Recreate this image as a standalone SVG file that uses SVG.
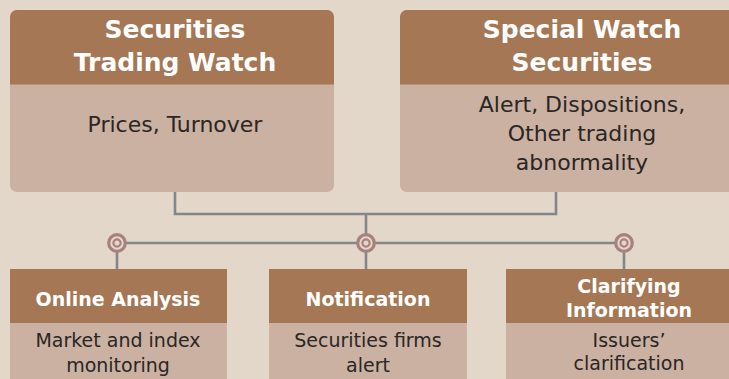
<svg xmlns="http://www.w3.org/2000/svg" width="729" height="379" viewBox="0 0 729 379">
  <defs>
    <clipPath id="clipTL"><rect x="10" y="10" width="324" height="182" rx="7"/></clipPath>
    <clipPath id="clipTR"><rect x="400" y="10" width="364" height="182" rx="7"/></clipPath>
    <g id="hub">
      <circle r="8.3" fill="#e2d7c9" stroke="#a8817f" stroke-width="3.2"/>
      <circle r="3.6" fill="#e2d7c9" stroke="#a8817f" stroke-width="2.2"/>
    </g>
  </defs>
  <style>
    .head { fill: #a57754; }
    .body { fill: #cbb1a1; }
    .wire { fill: none; stroke: #85868a; stroke-width: 2.6; }
    .t1 { font-family: "DejaVu Sans", Verdana, sans-serif; font-weight: bold; fill: #ffffff; text-anchor: middle; }
    .t2 { font-family: "DejaVu Sans", Verdana, sans-serif; fill: #2a2624; text-anchor: middle; }
  </style>

  <rect width="729" height="379" fill="#e2d7c9"/>

  <!-- connectors -->
  <g id="connectors">
    <path class="wire" d="M175 192 V214 H556 V192"/>
    <path class="wire" d="M366 214 V243"/>
    <path class="wire" d="M117 243 H624"/>
    <path class="wire" d="M117 243 V270 M366 243 V270 M624 243 V270"/>
    <use href="#hub" x="117" y="243"/>
    <use href="#hub" x="366" y="243"/>
    <use href="#hub" x="624" y="243"/>
  </g>

  <!-- top left -->
  <g id="trading-watch">
    <g clip-path="url(#clipTL)">
      <rect class="body" x="10" y="10" width="324" height="182"/>
      <rect class="head" x="10" y="10" width="324" height="74.5"/>
    </g>
    <text class="t1" x="175" y="38" font-size="25">Securities</text>
    <text class="t1" x="175" y="71" font-size="25">Trading Watch</text>
    <text class="t2" x="175" y="132" font-size="22">Prices, Turnover</text>
  </g>

  <!-- top right -->
  <g id="special-watch">
    <g clip-path="url(#clipTR)">
      <rect class="body" x="400" y="10" width="364" height="182"/>
      <rect class="head" x="400" y="10" width="364" height="74.5"/>
    </g>
    <text class="t1" x="582" y="38" font-size="25">Special Watch</text>
    <text class="t1" x="582" y="71" font-size="25">Securities</text>
    <text class="t2" x="582" y="112" font-size="22">Alert, Dispositions,</text>
    <text class="t2" x="582" y="141" font-size="22">Other trading</text>
    <text class="t2" x="582" y="170" font-size="22">abnormality</text>
  </g>

  <!-- bottom left -->
  <g id="online-analysis">
    <rect class="body" x="10" y="269" width="217" height="120"/>
    <rect class="head" x="10" y="269" width="217" height="54"/>
    <text class="t1" x="118" y="306" font-size="19">Online Analysis</text>
    <text class="t2" x="118" y="347" font-size="19">Market and index</text>
    <text class="t2" x="118" y="372" font-size="19">monitoring</text>
  </g>

  <!-- bottom middle -->
  <g id="notification">
    <rect class="body" x="269" y="269" width="198" height="120"/>
    <rect class="head" x="269" y="269" width="198" height="54"/>
    <text class="t1" x="368" y="306" font-size="19">Notification</text>
    <text class="t2" x="368" y="347" font-size="19">Securities firms</text>
    <text class="t2" x="368" y="372" font-size="19">alert</text>
  </g>

  <!-- bottom right -->
  <g id="clarifying">
    <rect class="body" x="506" y="269" width="246" height="120"/>
    <rect class="head" x="506" y="269" width="246" height="54"/>
    <text class="t1" x="629" y="293" font-size="19">Clarifying</text>
    <text class="t1" x="629" y="317" font-size="19">Information</text>
    <text class="t2" x="629" y="347" font-size="19">Issuers’</text>
    <text class="t2" x="629" y="370" font-size="19">clarification</text>
  </g>
</svg>
